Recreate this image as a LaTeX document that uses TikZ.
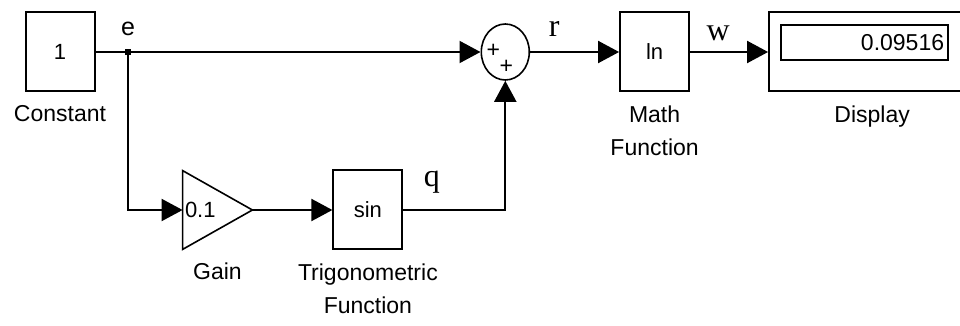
\documentclass[tikz,border=0pt]{standalone}
\usepackage{fontspec}
\setmainfont{Liberation Sans}
\newfontfamily\sigfont{Liberation Serif}
\usetikzlibrary{arrows.meta, positioning, shapes.geometric}

\begin{document}
\begin{tikzpicture}[
  block/.style={rectangle, draw, line width=1pt, minimum width=34.5pt,
    minimum height=39.5pt, inner sep=0pt, font=\fontsize{11}{13}\selectfont},
  sumblock/.style={ellipse, draw, line width=0.8pt, minimum width=24pt,
    minimum height=28pt, inner sep=0pt},
  sign/.style={inner sep=0pt, font=\fontsize{11.5}{11.5}\selectfont},
  caption/.style={inner sep=0pt, align=center, font=\fontsize{11.5}{16.5}\selectfont},
  sig/.style={inner sep=0pt, font=\sigfont\fontsize{16}{16}\selectfont},
  arrow/.style={-{Triangle[length=10.5pt, width=11pt]}, line width=1pt},
  line/.style={line width=1pt}
]
\useasboundingbox (0pt,0pt) rectangle (480pt,-163pt);

\node[block] (const) at (30pt,-26pt) {1};
\node[sumblock, right=192.5pt of const] (sum) {};
\node[block, right=44.5pt of sum] (math) {ln};
\node[block, minimum width=110pt, right=39pt of math] (disp) {};
\node[rectangle, draw, line width=1pt, minimum height=17.5pt, text width=79.5pt,
  inner xsep=2pt, inner ysep=0pt, align=right, font=\fontsize{11.5}{13}\selectfont,
  below right=6.5pt and 6pt of disp.north west] (dispval) {0.09516};

\node[minimum width=34.5pt, minimum height=39pt, inner sep=0pt] (gain) at (108.75pt,-105pt) {};
\draw[line width=0.8pt] (gain.north west) -- (gain.east) -- (gain.south west) -- cycle;
\node[anchor=west, inner sep=0pt, font=\fontsize{11}{13}\selectfont] (gainval)
  at ([xshift=1pt]gain.west) {0.1};
\node[block, right=40pt of gain] (trig) {sin};

\node[rectangle, fill, minimum size=3pt, inner sep=0pt] (junc) at (64pt,-26pt) {};
\node[sign] (plusa) at ([xshift=-6pt, yshift=0.5pt]sum.center) {+};
\node[sign] (plusb) at ([xshift=0.5pt, yshift=-7.5pt]sum.center) {+};

\node[caption, below=6.5pt of const] (constcap) {Constant};
\node[caption, below=6.5pt of math] (mathcap) {Math\\Function};
\node[caption, below=6.5pt of disp.south west, xshift=52pt] (dispcap) {Display};
\node[caption, below=6.5pt of gain] (gaincap) {Gain};
\node[caption, below=6.5pt of trig] (trigcap) {Trigonometric\\Function};

\node[inner sep=0pt, font=\fontsize{12.5}{13}\selectfont, above=6pt of junc] (elab) {e};

\draw[line] (const) -- (junc);
\draw[arrow] (junc) -- (sum);
\draw[arrow] (junc) |- (gain.west);
\draw[arrow] (gain.east) -- (trig);
\draw[arrow] (trig) -| node[sig, pos=0.14, above=8pt] (qlab) {q} (sum);
\draw[arrow] (sum) -- node[sig, pos=0.27, above=7pt] (rlab) {r} (math);
\draw[arrow] (math) -- node[sig, pos=0.36, above=5pt] (wlab) {w} (disp);
\end{tikzpicture}
\end{document}
